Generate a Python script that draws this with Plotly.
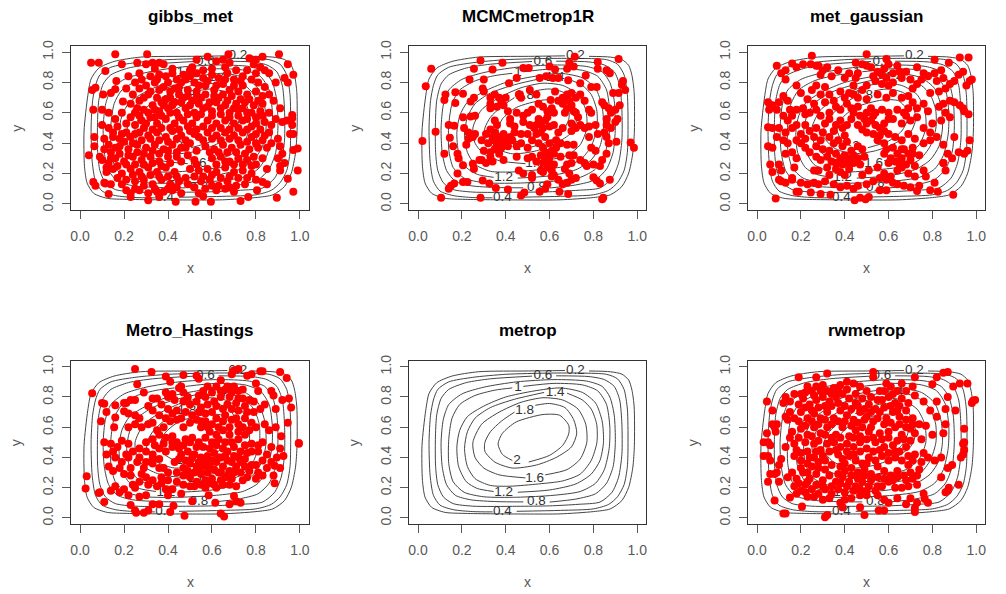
import plotly.graph_objects as go

# ---- contour rings: (x, y) vertices, a gap is left where the label sits
level_02 = [(.78,.972),(.877,.967),(.930,.951),(.961,.912),(.976,.845),(.986,.734),(.987,.48),(.980,.336),(.961,.203),(.930,.115),(.877,.060),(.80,.042),(.648,.027),(.495,.026),(.215,.030),(.123,.037),(.062,.07),(.032,.137),(.020,.248),(.018,.48),(.035,.712),(.05,.823),(.085,.894),(.154,.938),(.276,.967),(.505,.972),(.67,.975)]
level_04 = [(.45,.044),(.65,.05),(.80,.06),(.87,.09),(.91,.14),(.94,.22),(.955,.34),(.958,.5),(.955,.72),(.94,.85),(.91,.92),(.86,.95),(.75,.958),(.6,.958),(.4,.95),(.25,.93),(.14,.90),(.09,.85),(.07,.78),(.057,.68),(.05,.5),(.055,.28),(.07,.15),(.10,.085),(.16,.055),(.25,.042),(.34,.04)]
level_06 = [(.63,.94),(.78,.935),(.85,.915),(.895,.87),(.92,.78),(.93,.62),(.93,.42),(.915,.27),(.885,.17),(.83,.105),(.73,.09),(.6,.08),(.45,.077),(.25,.078),(.16,.095),(.115,.14),(.09,.22),(.08,.34),(.079,.52),(.085,.68),(.105,.79),(.14,.85),(.22,.895),(.33,.92),(.52,.938)]
level_08 = [(.60,.105),(.72,.125),(.81,.16),(.86,.23),(.89,.34),(.90,.5),(.895,.68),(.875,.8),(.84,.87),(.77,.905),(.62,.915),(.45,.90),(.30,.865),(.20,.82),(.14,.75),(.115,.65),(.105,.5),(.11,.34),(.13,.22),(.17,.15),(.24,.12),(.36,.108),(.48,.106)]
level_10 = [(.48,.87),(.62,.89),(.75,.88),(.82,.84),(.86,.75),(.875,.6),(.872,.46),(.85,.32),(.81,.23),(.74,.175),(.62,.15),(.45,.137),(.30,.14),(.21,.17),(.16,.24),(.14,.36),(.14,.52),(.155,.66),(.19,.75),(.26,.81),(.35,.845),(.43,.86)]
level_12 = [(.455,.17),(.6,.185),(.72,.225),(.79,.29),(.83,.38),(.846,.5),(.84,.64),(.81,.76),(.75,.83),(.65,.86),(.53,.84),(.40,.80),(.30,.74),(.225,.67),(.19,.58),(.177,.47),(.185,.34),(.22,.24),(.27,.195),(.345,.175)]
level_14 = [(.68,.825),(.75,.78),(.79,.72),(.815,.62),(.816,.5),(.79,.38),(.74,.29),(.66,.245),(.55,.225),(.42,.21),(.33,.215),(.26,.26),(.225,.34),(.212,.46),(.225,.57),(.26,.66),(.33,.73),(.44,.785),(.575,.83)]
level_16 = [(.58,.285),(.68,.32),(.74,.39),(.77,.50),(.765,.62),(.73,.72),(.66,.78),(.57,.795),(.47,.765),(.37,.70),(.29,.62),(.25,.50),(.26,.40),(.30,.33),(.37,.285),(.49,.265)]
level_18 = [(.535,.745),(.60,.757),(.67,.73),(.71,.65),(.724,.56),(.70,.47),(.63,.40),(.54,.35),(.43,.33),(.35,.37),(.305,.44),(.305,.50),(.33,.57),(.38,.64),(.44,.70)]
level_20 = [(.505,.37),(.60,.414),(.66,.48),(.6875,.557),(.6875,.613),(.646,.679),(.57,.684),(.448,.635),(.385,.56),(.365,.49),(.385,.42),(.43,.38)]
rings = [level_02, level_04, level_06, level_08, level_10, level_12, level_14, level_16, level_18, level_20]

label_text = ["0.2", "0.4", "0.6", "0.8", "1", "1.2", "1.4", "1.6", "1.8", "2"]
label_x = [.718, .385, .57, .54, .456, .39, .625, .532, .486, .451]
label_y = [.975, .04, .938, .11, .862, .17, .83, .263, .712, .376]

gibbs_met = [(.05,.93),(.085,.93),(.16,.985),(.305,.985),(.19,.92),(.26,.93),(.115,.875),(.58,.97),(.675,.985),(.905,.985),(.945,.92),(.97,.85),(.945,.80),(.93,.83),(.055,.75),(.07,.765),(.165,.81),(.16,.755),(.105,.72),(.14,.73),(.06,.62),(.10,.62),(.13,.60),(.195,.675),(.065,.44),(.065,.38),(.04,.32),(.09,.31),(.06,.145),(.07,.12),(.115,.135),(.13,.065),(.23,.045),(.31,.025),(.36,.045),(.435,.015),(.525,.015),(.595,.015),(.73,.02),(.765,.045),(.805,.09),(.83,.145),(.85,.13),(.895,.04),(.97,.08),(.99,.22),(.945,.165),(.99,.365),(.97,.355),(.97,.46),(.955,.46),(.965,.52),(.965,.585),(.965,.565),
(.30,.92),(.33,.93),(.36,.93),(.38,.92),(.34,.89),(.42,.89),(.42,.86),(.51,.90),(.53,.95),(.62,.94),(.65,.95),(.68,.93),(.66,.90),(.60,.89),(.56,.88),(.53,.86),(.50,.88),(.47,.85),(.71,.88),(.77,.96),(.80,.95),(.83,.97),(.79,.92),(.82,.90),(.76,.88),(.84,.88),(.86,.86),(.80,.86),(.74,.84),(.89,.80),(.86,.72),(.88,.68),(.91,.63),(.89,.56),(.92,.54),(.94,.55),(.86,.60),(.83,.66),
(.22,.84),(.25,.80),(.28,.82),(.32,.84),(.36,.85),(.39,.84),(.44,.82),(.48,.82),(.52,.80),(.56,.83),(.60,.85),(.63,.83),(.67,.86),(.70,.82),(.74,.78),(.78,.82),(.81,.80),(.84,.77),
(.21,.76),(.24,.72),(.27,.76),(.30,.78),(.34,.80),(.38,.77),(.41,.74),(.45,.77),(.49,.75),(.53,.74),(.57,.78),(.61,.75),(.65,.79),(.68,.75),(.72,.74),(.76,.72),(.80,.74),(.83,.71),
(.23,.66),(.27,.68),(.31,.72),(.35,.70),(.39,.69),(.43,.67),(.47,.70),(.51,.68),(.55,.70),(.59,.67),(.63,.70),(.67,.68),(.71,.66),(.75,.67),(.79,.65),(.82,.61),
(.19,.60),(.16,.56),(.25,.60),(.29,.62),(.33,.65),(.36,.61),(.40,.63),(.44,.60),(.48,.63),(.52,.60),(.56,.63),(.60,.61),(.64,.63),(.68,.60),(.72,.62),(.76,.60),(.80,.57),(.84,.54),(.87,.52),
(.10,.52),(.13,.50),(.17,.51),(.21,.53),(.25,.52),(.28,.55),(.32,.57),(.35,.53),(.39,.56),(.43,.53),(.47,.55),(.51,.53),(.58,.55),(.62,.53),(.66,.55),(.70,.53),(.74,.55),(.78,.51),(.82,.49),(.86,.47),(.90,.43),
(.11,.43),(.15,.44),(.19,.46),(.23,.44),(.27,.47),(.31,.45),(.35,.47),(.39,.44),(.42,.48),(.46,.45),(.50,.48),(.54,.44),(.58,.47),(.62,.45),(.66,.47),(.70,.45),(.74,.47),(.78,.44),(.83,.42),(.87,.40),
(.11,.36),(.14,.34),(.18,.38),(.22,.36),(.26,.39),(.30,.37),(.34,.39),(.38,.36),(.42,.39),(.46,.37),(.50,.40),(.57,.38),(.61,.36),(.65,.39),(.69,.37),(.73,.39),(.77,.36),(.81,.37),(.91,.38),(.92,.33),
(.10,.29),(.13,.27),(.16,.30),(.20,.28),(.24,.31),(.28,.29),(.32,.31),(.36,.28),(.40,.31),(.44,.31),(.49,.32),(.52,.29),(.60,.30),(.64,.31),(.68,.28),(.72,.30),(.76,.29),(.80,.26),(.90,.30),(.91,.25),(.93,.27),
(.12,.21),(.15,.23),(.19,.20),(.23,.23),(.27,.21),(.31,.24),(.35,.21),(.39,.24),(.43,.21),(.50,.23),(.54,.22),(.58,.23),(.62,.21),(.66,.24),(.70,.21),(.74,.22),(.78,.20),(.85,.23),(.91,.22),
(.11,.14),(.14,.13),(.19,.13),(.25,.15),(.29,.16),(.33,.13),(.37,.16),(.41,.13),(.45,.15),(.49,.13),(.55,.15),(.59,.16),(.63,.12),(.67,.15),(.71,.12),(.75,.13),(.80,.16),
(.23,.07),(.27,.09),(.31,.07),(.34,.10),(.38,.08),(.42,.09),(.46,.07),(.54,.07),(.56,.05),(.62,.09),(.66,.10),(.70,.08),
(.27,.86),(.35,.82),(.40,.80),(.46,.80),(.50,.84),(.54,.78),(.58,.81),(.62,.78),(.66,.82),(.70,.78),(.73,.81),(.43,.76),(.36,.75),(.32,.74),(.29,.70),(.37,.67),(.41,.70),(.45,.72),(.49,.71),(.53,.70),(.57,.72),(.61,.71),(.65,.72),(.69,.71),(.73,.69),(.77,.69),(.81,.68),(.26,.63),(.31,.60),(.34,.62),(.38,.65),(.42,.65),(.46,.67),(.50,.65),(.54,.66),(.58,.64),(.62,.67),(.66,.65),(.70,.63),(.74,.63),(.78,.60),(.83,.58),(.23,.57),(.27,.58),(.30,.53),(.34,.57),(.37,.58),(.41,.60),(.45,.57),(.49,.59),(.53,.57),(.55,.59),(.60,.58),(.64,.59),(.68,.57),(.72,.58),(.76,.56),(.80,.53),(.15,.47),(.18,.43),(.21,.47),(.25,.46),(.29,.50),(.33,.49),(.37,.50),(.41,.50),(.45,.49),(.49,.51),(.53,.49),(.56,.51),(.60,.50),(.64,.50),(.68,.49),(.72,.50),(.76,.49),(.80,.46),(.84,.45),(.13,.39),(.16,.37),(.20,.41),(.24,.40),(.28,.42),(.32,.43),(.36,.42),(.40,.41),(.44,.43),(.48,.42),(.52,.46),(.56,.42),(.60,.43),(.64,.42),(.68,.43),(.72,.42),(.76,.41),(.80,.40),(.85,.37),(.14,.30),(.18,.33),(.22,.32),(.26,.34),(.29,.33),(.33,.35),(.36,.33),(.40,.35),(.44,.34),(.48,.37),(.53,.35),(.59,.34),(.63,.34),(.67,.34),(.71,.34),(.75,.33),(.79,.31),(.83,.30),(.12,.24),(.17,.25),(.21,.26),(.25,.26),(.29,.26),(.33,.27),(.37,.25),(.41,.27),(.46,.28),(.53,.26),(.62,.26),(.66,.28),(.70,.26),(.74,.26),(.78,.25),(.17,.17),(.21,.16),(.24,.19),(.28,.18),(.32,.19),(.36,.18),(.40,.18),(.44,.18),(.48,.17),(.52,.18),(.56,.18),(.60,.19),(.64,.17),(.68,.18),(.72,.17),(.76,.17),(.21,.09),(.25,.10),(.29,.12),(.35,.08),(.40,.10),(.44,.11),(.52,.11),(.57,.10),(.60,.12),(.68,.11)]

mcmc_metrop1r = [(.02,.415),(.035,.775),(.06,.89),(.105,.04),(.285,.04),(.285,.945),(.385,.93),(.255,.89),(.34,.885),(.235,.82),(.30,.82),(.125,.72),(.12,.685),(.17,.735),(.205,.725),(.17,.665),(.24,.675),(.255,.70),(.295,.76),(.30,.74),(.205,.57),(.24,.575),(.26,.58),(.14,.52),(.165,.515),(.08,.475),(.145,.435),(.16,.38),(.12,.33),(.18,.33),(.185,.30),(.205,.255),(.25,.265),(.255,.23),(.28,.29),(.18,.20),(.165,.135),(.14,.10),(.15,.12),(.205,.145),(.225,.145),(.295,.155),(.325,.135),(.355,.105),(.41,.095),(.47,.055),(.485,.075),(.555,.08),(.645,.08),(.685,.065),(.845,.04),(.84,.03),(.875,.16),(.815,.155),(.83,.135),(.80,.175),(.715,.97),(.69,.93),(.68,.89),(.71,.905),(.915,.955),(.82,.935),(.82,.89),(.86,.88),(.875,.86),(.935,.81),(.93,.785),(.945,.75),(.915,.73),(.89,.73),(.765,.845),(.74,.795),(.79,.77),(.815,.77),(.685,.815),(.48,.895),(.505,.895),(.555,.83),(.585,.84),(.615,.83),(.64,.83),(.60,.905),(.625,.885),(.45,.83),(.415,.795),(.625,.74),(.465,.72),(.51,.75),(.54,.72),(.605,.685),(.97,.405),(.985,.37),(.905,.41),
(.33,.70),(.35,.72),(.37,.70),(.38,.67),(.33,.66),(.36,.64),(.39,.65),(.41,.61),(.40,.70),(.33,.63),(.46,.72),(.47,.70),(.45,.60),(.50,.60),(.52,.62),(.48,.58),(.55,.66),(.57,.64),(.59,.61),(.61,.63),(.62,.60),(.66,.70),(.68,.72),(.70,.73),(.66,.66),(.68,.63),(.70,.65),(.67,.60),(.72,.70),(.74,.72),(.76,.68),(.78,.62),(.79,.60),(.84,.67),(.85,.65),(.87,.63),(.88,.60),(.86,.56),(.90,.62),(.92,.65),(.86,.52),(.88,.50),(.90,.54),(.91,.56),(.72,.60),(.73,.57),(.70,.53),(.72,.50),(.74,.52),(.76,.50),(.78,.51),(.81,.52),(.70,.48),(.66,.50),(.64,.47),(.62,.52),
(.35,.55),(.36,.52),(.33,.49),(.35,.47),(.42,.53),(.44,.51),(.42,.56),(.48,.54),(.51,.52),(.53,.50),(.55,.56),(.56,.53),(.58,.55),(.60,.51),(.54,.46),(.56,.47),(.58,.44),(.50,.46),(.47,.46),(.44,.47),(.42,.44),(.39,.46),(.37,.44),(.34,.44),(.31,.46),(.29,.42),(.26,.46),(.23,.47),(.21,.50),(.25,.44),(.23,.43),(.22,.39),
(.32,.40),(.34,.42),(.36,.39),(.38,.37),(.40,.40),(.43,.42),(.45,.38),(.47,.40),(.50,.37),(.52,.42),(.55,.40),(.57,.37),(.60,.40),(.63,.42),(.65,.40),(.68,.39),(.71,.39),(.78,.44),(.82,.46),(.85,.47),(.86,.44),(.87,.40),(.86,.33),(.79,.37),(.81,.35),
(.33,.34),(.35,.36),(.30,.35),(.33,.31),(.29,.29),(.31,.27),(.34,.28),(.37,.33),(.39,.29),(.45,.31),(.50,.30),(.52,.31),(.54,.28),(.56,.32),(.58,.34),(.60,.31),(.62,.33),(.57,.27),(.60,.27),(.59,.24),(.62,.26),(.61,.22),(.57,.21),(.56,.22),(.69,.32),(.71,.32),(.68,.26),(.70,.27),(.67,.23),(.74,.29),(.76,.27),(.77,.25),(.80,.26),(.83,.25),(.84,.29),(.69,.20),(.72,.17),(.70,.16),(.68,.14),(.66,.13),(.64,.16),(.62,.19),(.59,.13),(.58,.10),(.61,.18),(.46,.22),(.48,.20),(.52,.19),(.52,.17),
(.37,.41),(.39,.43),(.41,.38),(.37,.35),(.54,.52),(.57,.50),(.59,.57),(.64,.68),(.69,.68),(.71,.61),(.63,.37),(.61,.35),(.58,.29),(.65,.31)]

met_gaussian = [(.085,.035),(.09,.91),(.25,.975),(.50,.985),(.59,.955),(.925,.965),(.965,.965),(.81,.95),(.875,.93),(.245,.92),(.27,.91),(.16,.925),(.18,.90),(.13,.88),(.11,.86),(.21,.92),(.06,.65),(.05,.67),(.055,.62),(.05,.505),(.07,.50),(.05,.38),(.07,.37),(.06,.26),(.10,.26),(.11,.22),(.07,.21),(.11,.15),(.13,.14),(.10,.16),(.16,.16),(.18,.08),(.19,.08),(.245,.075),(.29,.065),(.335,.06),(.445,.025),(.47,.04),(.495,.03),(.51,.045),(.56,.09),(.59,.09),(.73,.085),(.79,.09),(.825,.08),(.81,.14),(.895,.06),(.92,.34),(.945,.33),(.96,.35),(.97,.42),(.90,.44),(.965,.59),(.945,.61),(.925,.65),(.97,.81),(.98,.82),(.955,.78),(.94,.87),(.92,.85),(.94,.63),
(.28,.91),(.30,.88),(.32,.90),(.29,.85),(.37,.88),(.40,.83),(.45,.83),(.46,.86),(.45,.93),(.48,.92),(.50,.91),(.52,.90),(.55,.87),(.57,.85),(.58,.89),(.60,.92),(.62,.86),(.64,.91),(.66,.83),(.68,.87),(.73,.90),(.76,.86),(.78,.84),(.81,.86),(.84,.88),(.85,.83),(.82,.81),(.90,.81),(.88,.79),(.86,.76),(.83,.74),(.79,.73),(.73,.79),(.71,.76),(.69,.71),(.62,.80),(.60,.78),(.57,.79),(.54,.81),(.50,.78),(.44,.78),
(.13,.82),(.18,.78),(.12,.71),(.14,.68),(.10,.67),(.07,.65),(.20,.73),(.23,.69),(.25,.75),(.27,.78),(.29,.72),(.31,.77),(.33,.72),(.35,.68),(.38,.74),(.40,.70),(.42,.73),(.46,.70),(.48,.75),(.50,.69),(.55,.72),(.59,.70),(.62,.73),(.66,.70),(.71,.67),(.73,.63),(.76,.66),(.78,.61),(.83,.64),(.85,.66),(.88,.68),(.90,.67),(.86,.60),(.84,.55),(.88,.57),(.80,.53),
(.09,.62),(.12,.58),(.14,.55),(.10,.50),(.13,.47),(.16,.50),(.16,.58),(.18,.62),(.21,.63),(.24,.60),(.27,.62),(.29,.58),(.33,.60),(.36,.64),(.38,.62),(.41,.66),(.44,.60),(.46,.64),(.47,.58),(.50,.60),(.52,.63),(.54,.60),(.57,.62),(.60,.60),(.64,.62),(.67,.60),(.69,.63),(.73,.57),(.70,.55),(.66,.53),(.76,.50),(.79,.47),
(.46,.52),(.48,.49),(.50,.53),(.52,.55),(.54,.52),(.56,.50),(.58,.53),(.50,.47),(.53,.46),(.56,.45),(.58,.48),(.60,.46),(.55,.42),(.58,.40),(.38,.55),(.36,.52),(.33,.56),(.31,.53),(.27,.50),(.24,.48),(.20,.46),(.18,.42),(.22,.43),(.26,.44),(.29,.42),(.33,.44),(.14,.40),(.09,.44),(.12,.42),(.63,.44),(.66,.42),(.69,.46),(.72,.43),(.76,.40),(.79,.42),(.82,.44),(.85,.39),(.87,.33),(.89,.30),(.85,.27),(.86,.22),
(.20,.40),(.22,.37),(.24,.34),(.27,.38),(.30,.36),(.35,.40),(.37,.42),(.39,.38),(.41,.41),(.43,.35),(.46,.38),(.48,.36),(.62,.37),(.64,.33),(.67,.36),(.69,.33),(.71,.37),(.74,.32),(.13,.33),(.16,.34),(.18,.30),(.17,.24),(.29,.29),(.32,.31),(.34,.28),(.36,.33),(.38,.30),(.40,.27),(.42,.30),(.44,.27),(.46,.30),(.58,.33),(.61,.30),(.63,.28),(.66,.30),(.68,.26),(.70,.29),(.72,.25),(.26,.22),(.28,.22),(.33,.19),(.36,.23),(.38,.21),(.40,.19),(.42,.23),(.55,.24),(.58,.20),(.61,.18),(.64,.22),(.66,.24),(.69,.20),(.72,.18),(.76,.22),(.77,.18),(.85,.27),
(.16,.17),(.20,.14),(.23,.13),(.26,.14),(.28,.13),(.31,.15),(.35,.13),(.38,.11),(.41,.12),(.44,.10),(.46,.12),(.50,.13),(.53,.15),(.56,.17),(.59,.16),(.62,.14),(.64,.13),(.67,.12),(.70,.11),(.74,.12),
(.34,.84),(.42,.86),(.53,.84),(.59,.83),(.65,.87),(.70,.82),(.75,.82),(.44,.72),(.31,.67),(.26,.66),(.22,.59),(.15,.62),(.43,.63),(.49,.56),(.53,.58),(.60,.56),(.62,.56),(.68,.58),(.18,.52),(.22,.52),(.30,.47),(.35,.48),(.40,.32),(.44,.32),(.49,.31),(.33,.35),(.27,.31),(.59,.36),(.60,.27),(.65,.26),(.71,.33),(.66,.36),(.39,.26),(.36,.27),(.42,.26),(.47,.26),(.32,.24),(.48,.19),(.51,.22),(.40,.45),(.39,.50),(.43,.56),(.41,.52)]

metro_hastings = [(.055,.825),(.25,.985),(.325,.965),(.47,.945),(.39,.935),(.53,.94),(.54,.92),(.70,.975),(.72,.985),(.69,.95),(.76,.94),(.78,.95),(.82,.97),(.83,.97),(.91,.965),(.94,.925),(.95,.79),(.96,.73),(.945,.63),(.915,.54),(.91,.46),(.925,.41),(.895,.40),(.885,.345),(.91,.33),(.88,.28),(.885,.23),(.995,.495),(.995,.49),(.03,.275),(.025,.195),(.09,.17),(.085,.165),(.11,.105),(.23,.085),(.25,.05),(.255,.035),(.29,.035),(.31,.05),(.33,.09),(.36,.09),(.41,.04),(.425,.08),(.475,.015),(.64,.03),(.655,.01),(.615,.10),(.585,.15),(.68,.09),(.71,.11),(.73,.10),(.51,.11),(.70,.145),(.71,.21),(.095,.64),(.12,.70),(.11,.755),(.10,.76),(.16,.745),(.16,.665),(.155,.60),(.20,.705),(.20,.76),(.26,.885),(.29,.83),
(.21,.76),(.23,.78),(.25,.78),(.22,.69),(.25,.68),(.27,.66),(.33,.79),(.35,.79),(.31,.74),(.33,.71),(.36,.68),(.40,.72),(.39,.83),(.40,.80),(.41,.90),(.45,.86),(.47,.83),(.46,.87),(.47,.77),(.50,.75),(.42,.69),(.44,.71),(.48,.70),(.55,.73),(.54,.81),(.53,.77),(.58,.75),(.58,.87),(.60,.83),(.62,.87),(.64,.91),(.66,.85),(.68,.80),(.70,.87),(.72,.84),(.74,.85),(.64,.80),(.67,.75),(.71,.76),(.74,.79),(.77,.78),(.79,.77),(.80,.89),(.81,.84),(.79,.70),(.82,.72),(.84,.75),(.87,.84),(.88,.81),(.89,.72),(.92,.78),
(.22,.60),(.25,.62),(.31,.62),(.35,.58),(.38,.60),(.41,.64),(.44,.65),(.47,.60),(.50,.63),(.53,.65),(.55,.60),(.57,.64),(.60,.62),(.62,.66),(.59,.57),(.62,.55),(.66,.68),(.69,.65),(.72,.62),(.75,.66),(.78,.63),(.72,.57),(.69,.50),(.72,.52),(.75,.55),(.84,.62),(.86,.58),(.89,.60),(.83,.50),(.87,.47),(.81,.44),(.78,.44),(.85,.42),(.83,.38),(.87,.37),(.80,.35),(.81,.30),(.80,.26),(.83,.28),(.85,.33),
(.11,.50),(.14,.49),(.15,.44),(.17,.47),(.12,.42),(.16,.40),(.19,.51),(.22,.49),(.21,.42),(.24,.44),(.27,.46),(.30,.50),(.33,.52),(.36,.55),(.39,.53),(.42,.54),(.44,.50),(.47,.48),(.50,.50),(.53,.47),(.56,.47),(.59,.46),(.62,.48),(.65,.46),(.67,.44),(.70,.47),(.73,.44),(.76,.43),(.30,.44),(.33,.42),(.36,.46),(.39,.44),(.42,.47),(.46,.42),(.49,.44),(.52,.42),(.55,.40),(.58,.41),(.61,.43),(.64,.40),(.67,.38),(.70,.41),(.73,.37),(.75,.34),(.78,.35),
(.13,.34),(.15,.31),(.18,.33),(.20,.29),(.23,.33),(.26,.37),(.29,.33),(.28,.29),(.30,.27),(.33,.36),(.36,.39),(.38,.33),(.37,.27),(.40,.30),(.44,.30),(.47,.33),(.50,.36),(.53,.34),(.56,.36),(.59,.35),(.62,.37),(.65,.34),(.68,.31),(.71,.34),(.73,.30),(.76,.27),(.50,.27),(.53,.24),(.55,.29),(.58,.30),(.60,.26),(.63,.30),(.61,.22),(.64,.25),(.66,.27),(.69,.26),
(.14,.18),(.16,.21),(.18,.17),(.20,.19),(.22,.15),(.25,.20),(.27,.14),(.30,.15),(.31,.22),(.33,.25),(.35,.21),(.39,.19),(.40,.15),(.42,.19),(.44,.24),(.46,.16),(.52,.21),(.57,.20),(.62,.20),
(.42,.82),(.43,.78),(.37,.75),(.49,.80),(.56,.84),(.57,.80),(.61,.77),(.64,.84),(.67,.87),(.69,.83),(.72,.79),(.75,.74),(.76,.70),(.72,.71),(.69,.72),(.65,.72),(.62,.74),(.60,.70),(.57,.69),(.54,.70),(.51,.68),(.46,.66),(.39,.66),(.33,.63),(.28,.60),(.55,.64),(.58,.60),(.65,.64),(.68,.60),(.71,.66),(.74,.60),(.77,.58),(.80,.60),(.65,.58),(.68,.55),(.63,.60),(.42,.50),(.38,.49),(.34,.48),(.45,.46),(.48,.52),(.51,.53),(.54,.50),(.57,.53),(.60,.50),(.63,.52),(.66,.50),(.75,.48),(.78,.49),(.81,.48),(.19,.37),(.22,.40),(.27,.40),(.30,.37),(.33,.39),(.36,.33),(.43,.37),(.45,.39),(.48,.38),(.51,.40),(.54,.37),(.57,.38),(.60,.38),(.63,.40),(.66,.41),(.69,.37),(.72,.40),(.75,.39),(.47,.28),(.49,.31),(.52,.30),(.55,.33),(.58,.34),(.61,.32),(.64,.30),(.67,.28),(.70,.30),(.74,.25),(.77,.31),(.57,.25),(.55,.22),(.59,.23),(.65,.22),(.68,.22),(.50,.21),(.47,.22),(.40,.25),(.37,.23),(.27,.24),(.23,.28),(.24,.22)]

rwmetrop = [(.31,.005),(.32,.02),(.12,.03),(.13,.03),(.205,.075),(.49,.02),(.555,.05),(.58,.05),(.47,.07),(.39,.07),(.72,.04),(.72,.065),(.08,.115),(.15,.135),(.765,.125),(.78,.10),(.92,.22),(.87,.18),(.86,.17),(.875,.20),(.93,.40),(.94,.42),(.945,.45),(.945,.50),(.94,.49),(.945,.59),(.905,.71),(.98,.76),(.985,.775),(.995,.78),(.96,.89),(.925,.89),(.895,.87),(.87,.965),(.85,.96),(.82,.93),(.80,.885),(.72,.93),(.53,.965),(.53,.93),(.32,.955),(.27,.93),(.19,.93),(.045,.77),(.07,.71),(.045,.56),(.03,.50),(.05,.50),(.06,.48),(.03,.41),(.05,.41),(.06,.38),(.05,.24),(.06,.29),(.08,.29),(.09,.30),(.10,.24),(.10,.35),(.11,.39),(.07,.62),(.08,.60),(.085,.57),(.09,.62),(.13,.47),
(.12,.76),(.13,.80),(.15,.77),(.17,.82),(.13,.67),(.15,.70),(.17,.66),(.14,.65),(.20,.82),(.23,.87),(.25,.84),(.27,.87),(.30,.88),(.32,.84),(.35,.86),(.38,.88),(.41,.90),(.44,.89),(.47,.87),(.50,.84),(.56,.84),(.59,.89),(.61,.87),(.64,.84),(.66,.89),(.68,.84),(.71,.87),(.72,.81),(.76,.77),(.79,.71),(.82,.77),(.86,.72),(.87,.80),(.82,.67),(.77,.61),(.74,.62),(.86,.62),(.85,.56),(.80,.55),
(.21,.79),(.24,.75),(.27,.78),(.30,.80),(.33,.77),(.36,.80),(.39,.82),(.42,.79),(.45,.76),(.48,.79),(.51,.75),(.54,.72),(.57,.78),(.60,.80),(.63,.76),(.66,.79),(.69,.76),
(.20,.70),(.23,.66),(.26,.69),(.29,.66),(.32,.70),(.35,.66),(.38,.71),(.41,.68),(.44,.65),(.47,.70),(.50,.67),(.53,.64),(.56,.70),(.59,.66),(.62,.70),(.65,.67),(.68,.65),(.71,.66),(.16,.57),(.15,.53),(.17,.49),(.20,.59),(.23,.55),(.26,.60),(.29,.56),(.32,.60),(.36,.55),(.39,.60),(.42,.54),(.45,.58),(.48,.60),(.51,.57),(.56,.56),(.60,.57),(.63,.60),(.66,.55),(.70,.59),(.72,.56),(.75,.52),
(.18,.45),(.17,.41),(.20,.38),(.23,.44),(.26,.49),(.29,.45),(.32,.49),(.35,.50),(.38,.47),(.41,.44),(.44,.47),(.47,.50),(.50,.46),(.54,.50),(.58,.47),(.62,.48),(.65,.44),(.68,.47),(.72,.42),(.76,.43),(.78,.40),(.81,.38),(.84,.40),
(.37,.42),(.39,.39),(.42,.41),(.45,.38),(.48,.36),(.51,.40),(.54,.38),(.57,.41),(.60,.38),(.63,.40),(.66,.38),(.69,.35),(.23,.36),(.26,.40),(.28,.33),(.31,.38),(.34,.35),(.43,.33),(.46,.30),(.49,.32),(.52,.29),(.55,.34),(.58,.31),(.61,.28),(.64,.31),(.67,.28),(.70,.30),(.74,.32),(.73,.28),(.87,.33),(.89,.35),(.84,.27),
(.14,.27),(.16,.30),(.18,.26),(.21,.30),(.24,.26),(.27,.29),(.30,.25),(.33,.28),(.36,.24),(.39,.27),(.42,.24),(.45,.21),(.48,.24),(.51,.21),(.54,.18),(.57,.21),(.60,.24),(.63,.20),(.66,.20),(.69,.21),(.73,.22),(.17,.21),(.20,.18),(.22,.22),(.25,.19),(.28,.16),(.31,.19),(.34,.16),(.37,.19),(.40,.17),(.43,.13),(.47,.15),(.50,.15),(.18,.16),(.23,.14),(.26,.14),(.30,.12),(.33,.13),(.38,.10),(.40,.12),(.55,.15),(.58,.12),(.60,.10),(.64,.13),(.68,.09),(.70,.13),(.73,.10),(.76,.16),
(.22,.83),(.26,.81),(.29,.84),(.34,.82),(.37,.84),(.41,.85),(.45,.82),(.52,.80),(.55,.78),(.58,.84),(.62,.82),(.65,.74),(.68,.71),(.19,.75),(.22,.73),(.25,.71),(.28,.73),(.31,.74),(.34,.74),(.37,.76),(.40,.74),(.43,.72),(.46,.74),(.49,.72),(.52,.70),(.55,.66),(.58,.73),(.61,.74),(.64,.71),(.19,.64),(.22,.61),(.25,.64),(.28,.62),(.31,.65),(.34,.62),(.37,.64),(.40,.64),(.43,.61),(.46,.63),(.49,.65),(.52,.60),(.58,.62),(.61,.63),(.65,.62),(.68,.60),(.71,.62),(.19,.53),(.22,.50),(.25,.54),(.28,.51),(.31,.55),(.34,.53),(.38,.53),(.41,.49),(.44,.53),(.47,.54),(.50,.52),(.53,.53),(.57,.52),(.60,.53),(.64,.51),(.67,.52),(.70,.51),(.20,.43),(.24,.40),(.27,.44),(.30,.41),(.33,.44),(.36,.45),(.40,.36),(.38,.34),(.44,.42),(.47,.44),(.50,.36),(.53,.44),(.56,.45),(.60,.43),(.63,.44),(.69,.41),(.71,.38),(.75,.37),(.20,.33),(.23,.30),(.25,.34),(.28,.37),(.31,.32),(.37,.29),(.40,.31),(.43,.28),(.46,.26),(.49,.28),(.52,.25),(.55,.27),(.58,.26),(.62,.25),(.64,.27),(.68,.25),(.71,.26),(.19,.23),(.23,.24),(.27,.22),(.30,.21),(.34,.21),(.38,.23),(.41,.21),(.44,.18),(.47,.19),(.50,.18),(.55,.21),(.22,.17)]

panel_titles = ["gibbs_met", "MCMCmetrop1R", "met_gaussian", "Metro_Hastings", "metrop", "rwmetrop"]
panel_points = [gibbs_met, mcmc_metrop1r, met_gaussian, metro_hastings, [], rwmetrop]
tick_values = [0, .2, .4, .6, .8, 1]
tick_text = ["0.0", "0.2", "0.4", "0.6", "0.8", "1.0"]
x_axis_title = "x"
y_axis_title = "y"

W, H = 1006, 594
M = 12
frame_x = [(71.3, 308.7), (409.3, 646.0), (748.3, 985.0)]
frame_y = [(46.0, 210.0), (360.7, 524.0)]
title_y = [16.0, 330.0]
GREY = "#595959"
FONT = "Liberation Sans, Arial, sans-serif"

def dom_x(px):
    return (px - M) / (W - 2 * M)

def dom_y(py):
    return 1 - (py - M) / (H - 2 * M)

fig = go.Figure()
annotations = []
ring_x, ring_y = [], []
for ring in rings:
    ring_x += [p[0] for p in ring] + [None]
    ring_y += [p[1] for p in ring] + [None]

for i, title in enumerate(panel_titles):
    row, col = i // 3, i % 3
    xa, ya = ("x", "y") if i == 0 else (f"x{i+1}", f"y{i+1}")
    xkey, ykey = ("xaxis", "yaxis") if i == 0 else (f"xaxis{i+1}", f"yaxis{i+1}")
    x0, x1 = frame_x[col]
    y0, y1 = frame_y[row]
    common = dict(range=[-0.04, 1.04], tickvals=tick_values, ticktext=tick_text, ticks="outside",
                  ticklen=8, tickcolor=GREY, tickwidth=1, showgrid=False, zeroline=False,
                  showline=True, linecolor="#333333", linewidth=1, mirror=True, automargin=False,
                  tickfont=dict(family=FONT, size=14, color=GREY))
    fig.update_layout(**{
        xkey: dict(domain=[dom_x(x0), dom_x(x1)], anchor=ya, ticklabelstandoff=5, **common),
        ykey: dict(domain=[dom_y(y1), dom_y(y0)], anchor=xa, tickangle=-90, ticklabelstandoff=4, **common),
    })
    fig.add_trace(go.Scatter(x=ring_x, y=ring_y, xaxis=xa, yaxis=ya, mode="lines",
                             line=dict(color="#444444", width=1, shape="spline", smoothing=0.7),
                             hoverinfo="skip", connectgaps=False))
    fig.add_trace(go.Scatter(x=label_x, y=label_y, xaxis=xa, yaxis=ya, mode="text", text=label_text,
                             textposition="middle center",
                             textfont=dict(family=FONT, size=13.5, color="#333333"), hoverinfo="skip"))
    pts = panel_points[i]
    if pts:
        fig.add_trace(go.Scatter(x=[p[0] for p in pts], y=[p[1] for p in pts], xaxis=xa, yaxis=ya,
                                 mode="markers", marker=dict(color="#ff0000", size=8, line=dict(width=0))))
    annotations.append(dict(text=f"<b>{title}</b>", xref="paper", yref="paper",
                            x=dom_x((x0 + x1) / 2), y=dom_y(title_y[row]), xanchor="center", yanchor="middle",
                            showarrow=False, font=dict(family=FONT, size=17, color="black")))
    annotations.append(dict(text=x_axis_title, xref="paper", yref="paper",
                            x=dom_x((x0 + x1) / 2), y=dom_y(y1 + 58), xanchor="center", yanchor="middle",
                            showarrow=False, font=dict(family=FONT, size=14, color=GREY)))
    annotations.append(dict(text=y_axis_title, xref="paper", yref="paper", textangle=-90,
                            x=dom_x(x0 - 54.5), y=dom_y((y0 + y1) / 2), xanchor="center", yanchor="middle",
                            showarrow=False, font=dict(family=FONT, size=14, color=GREY)))

fig.update_layout(width=W, height=H, margin=dict(l=M, r=M, t=M, b=M, pad=0), showlegend=False,
                  paper_bgcolor="white", plot_bgcolor="white", annotations=annotations)
fig.write_html("out.html", post_script="document.body.style.margin='0';", config={"displayModeBar": False})
